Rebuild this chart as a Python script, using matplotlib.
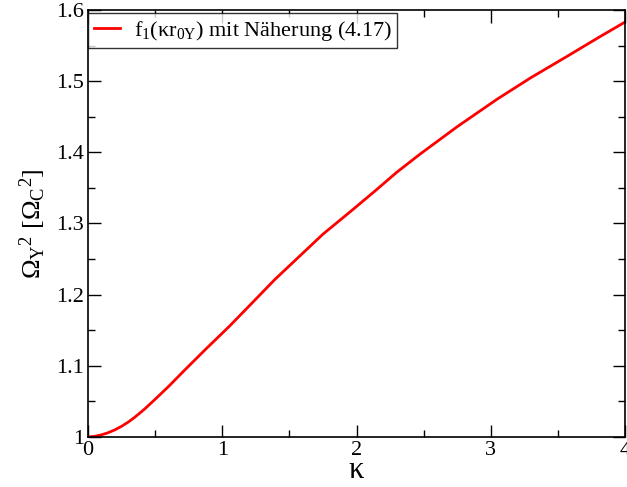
import matplotlib
matplotlib.use("Agg")
import matplotlib.pyplot as plt
from matplotlib.ticker import MultipleLocator

# values
kappa = [0.0, 0.05, 0.1, 0.15, 0.2, 0.25, 0.3, 0.35, 0.42, 0.5, 0.6, 0.72, 0.88,
         1.05, 1.2, 1.39, 1.57, 1.75, 1.95, 2.14, 2.3, 2.47, 2.75, 3.05, 3.3,
         3.57, 3.8, 4.0]
omega_sq = [1.0, 1.001, 1.003, 1.006, 1.010, 1.015, 1.021, 1.028, 1.039, 1.053,
            1.071, 1.094, 1.124, 1.155, 1.184, 1.221, 1.253, 1.285, 1.316, 1.346,
            1.372, 1.397, 1.436, 1.475, 1.505, 1.535, 1.561, 1.583]
legend_label = r"f$_1$(κr$_{0Y}$) mit Näherung (4.17)"

plt.rcParams["font.family"] = ["Liberation Serif", "DejaVu Serif"]
plt.rcParams["mathtext.default"] = "regular"

fig = plt.figure(figsize=(6.27, 4.87), dpi=100)
ax = fig.add_axes([0.1404, 0.1027, 0.8564, 0.8768])

ax.plot(kappa, omega_sq, color="red", lw=2.0, label=legend_label)

ax.set_xlim(0, 4)
ax.set_ylim(1, 1.6)
ax.xaxis.set_major_locator(MultipleLocator(1))
ax.xaxis.set_minor_locator(MultipleLocator(0.5))
ax.yaxis.set_major_locator(MultipleLocator(0.1))
ax.yaxis.set_minor_locator(MultipleLocator(0.05))
ax.xaxis.set_major_formatter(plt.FuncFormatter(lambda v, p: f"{v:g}"))
ax.yaxis.set_major_formatter(plt.FuncFormatter(lambda v, p: f"{v:g}"))

ax.tick_params(which="both", direction="in", top=True, right=True, labelsize=16, pad=3)
ax.tick_params(which="major", length=9, width=1)
ax.tick_params(which="minor", length=5, width=1)
for s in ax.spines.values():
    s.set_linewidth(1.2)

ax.set_xlabel("κ", fontsize=22, labelpad=-3)
ax.set_ylabel(r"$\Omega_{Y}{}^{2}$ [$\Omega_{C}{}^{2}$]", fontsize=19, labelpad=6)

leg = ax.legend(loc="upper left", bbox_to_anchor=(0.0, 0.993), borderaxespad=0,
                fontsize=16, frameon=True, fancybox=False, handlelength=1.2,
                handletextpad=0.6, borderpad=0.25)
leg.get_frame().set_edgecolor("black")
leg.get_frame().set_linewidth(1.0)

fig.savefig("out.png", dpi=100)
